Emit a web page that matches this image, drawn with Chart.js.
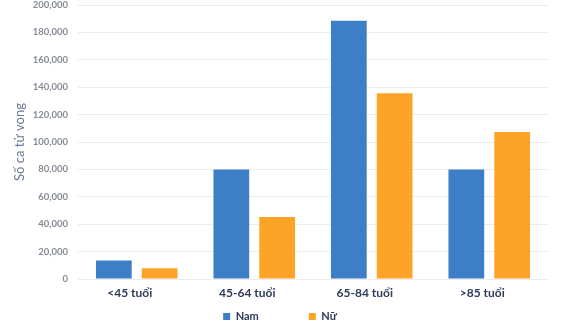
<!DOCTYPE html>
<html>
<head>
<meta charset="utf-8">
<script src="https://cdn.jsdelivr.net/npm/chart.js@4/dist/chart.umd.min.js"></script>
<style>
  html, body { margin: 0; padding: 0; background: #fff; overflow: hidden; }
  #wrap { width: 580px; height: 320px; }
</style>
</head>
<body>
<div id="wrap"><canvas id="chart"></canvas></div>
<script>
let nhomTuoi = ["<45 tuổi", "45-64 tuổi", "65-84 tuổi", ">85 tuổi"]
let nam = [13500, 80000, 188500, 80000]
let nu = [7800, 45300, 135500, 107300]

let ctx = document.getElementById("chart").getContext("2d")

// legend sits tight under the x labels, but with wide gaps between items
let legendTight = {
  id: "legendTight",
  afterInit(chart) {
    let lg = chart.legend
    let fit = lg.fit.bind(lg)
    lg.fit = function () {
      fit()
      this.height = 20
    }
    let draw = lg._draw.bind(lg)
    lg._draw = function () {
      let t = this.top
      this.top = t - 39
      draw()
      this.top = t
    }
  },
}

let chart = new Chart(ctx, {
  type: "bar",
  data: {
    labels: nhomTuoi,
    datasets: [
      {
        label: "Nam",
        backgroundColor: "#3d7fc6",
        data: nam,
      },
      {
        label: "Nữ",
        backgroundColor: "#fda428",
        data: nu,
      },
    ],
  },
  plugins: [legendTight],
  options: {
    responsive: true,
    maintainAspectRatio: false,
    animation: false,
    categoryPercentage: 0.78,
    barPercentage: 0.78,
    layout: {
      padding: { left: 12, right: 32, top: 0, bottom: 0 },
    },
    plugins: {
      legend: {
        position: "bottom",
        labels: {
          boxWidth: 7,
          boxHeight: 7,
          padding: 50,
          color: "#2d3a5a",
          font: { family: "Lato", size: 11, weight: "bold" },
        },
      },
      tooltip: { enabled: false },
    },
    scales: {
      x: {
        grid: { display: false, drawTicks: false },
        border: { display: false },
        afterFit: (s) => {
          s.height = 21
        },
        ticks: {
          padding: 7,
          labelOffset: -7,
          color: "#2d3a5a",
          font: { family: "Lato", size: 12, weight: "bold" },
        },
      },
      y: {
        min: 0,
        max: 200000,
        border: { display: false },
        grid: { color: "#ececec", drawTicks: false },
        afterFit: (s) => {
          s.width = 66
          s.paddingTop = 5
          s.paddingBottom = 5
        },
        ticks: {
          stepSize: 20000,
          padding: 10,
          color: "#858b94",
          font: { family: "Lato", size: 9.5, weight: "bold" },
          callback: (v) => v.toLocaleString("en-US"),
        },
        title: {
          display: true,
          text: "Số ca tử vong",
          padding: 0,
          color: "#6b7a95",
          font: { family: "Lato", size: 13 },
        },
      },
    },
  },
})
</script>
</body>
</html>
